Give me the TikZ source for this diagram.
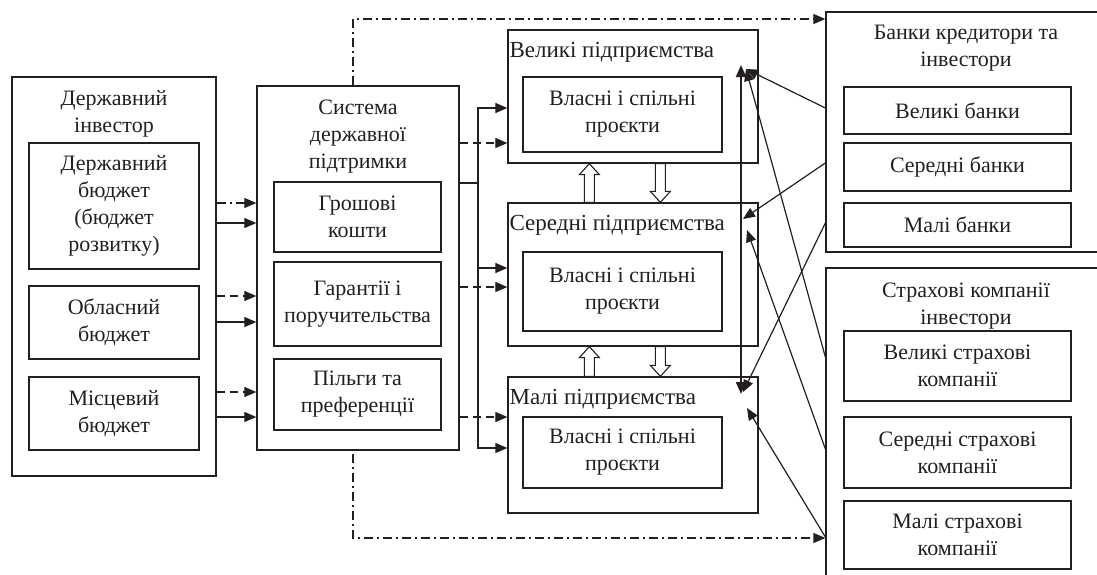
\documentclass[tikz,border=0pt]{standalone}
\usepackage{fontspec}
\setmainfont{Liberation Serif}
\usetikzlibrary{arrows.meta,positioning,calc}
\definecolor{ink}{HTML}{231F20}
\tikzset{box/.style={draw=ink,line width=1.3pt,align=center,inner sep=0pt,text=ink,font=\fontsize{22}{27}\selectfont},
  ttl/.style={align=center,inner sep=1pt,text=ink,font=\fontsize{22}{27}\selectfont},
  arr/.style={->,line width=1.2pt,draw=ink},
  dsh/.style={dash pattern=on 8pt off 5pt},
  dd/.style={dash pattern=on 9pt off 4pt on 2pt off 4pt},
  hol/.style={draw=ink,line width=1.1pt}}
\begin{document}
\begin{tikzpicture}[x=1pt,y=-1pt,>={Triangle[length=12pt,width=10pt]}]
\clip (0,0) rectangle (1097,574);
% outer frames
\foreach \n/\x/\y/\w/\h in {inv/114/276.5/204/399,sys/358/268/202/364,ve/633/96.5/250/133,se/633/274.5/250/143,ma/633/445/250/136,bk/973/132/294/240,ins/973/434/294/332}
  \node[box,minimum width=\w*1pt,minimum height=\h*1pt] (\n) at (\x,\y) {};
% inner boxes
\foreach \n/\x/\y/\w/\h/\t in {sb/114/206/170/126/{Державний\\бюджет\\(бюджет\\розвитку)},ob/114/322.5/170/73/{Обласний\\бюджет},mb/114/413.5/170/73/{Місцевий\\бюджет},
  gk/357.5/217/167/70/{Грошові\\кошти},gp/357.5/304/167/84/{Гарантії і\\поручительства},pp/357.5/394.5/167/71/{Пільги та\\преференції},
  vei/622.5/114.5/199/75/{Власні і спільні\\проєкти},sei/622.5/291.5/199/79/{Власні і спільні\\проєкти},mai/622.5/452.5/199/71/{Власні і спільні\\проєкти},
  bv/957.5/110.5/227/47/{Великі банки},bs/957.5/167/227/48/{Середні банки},bm/957.5/225/227/44/{Малі банки},
  iv/957.5/366/227/70/{Великі страхові\\компанії},is/957.5/452.5/227/71/{Середні страхові\\компанії},im/957.5/535/227/68/{Малі страхові\\компанії}}
  \node[box,minimum width=\w*1pt,minimum height=\h*1pt] (\n) at (\x,\y) {\t};
% titles
\node[ttl] (inv-t) at (114,113.5) {Державний\\інвестор};
\node[ttl] (sys-t) at (358,137) {Система\\державної\\підтримки};
\node[ttl] (bk-t) at (966,48.5) {Банки кредитори та\\інвестори};
\node[ttl] (ins-t) at (966,306) {Страхові компанії\\інвестори};
\foreach \n/\t in {ve/Великі,se/Середні,ma/Малі}
  \node[ttl,anchor=west,font=\fontsize{23}{27}\selectfont] (\n-t) at ([xshift=1pt,yshift=-23pt]\n.north west) {\t{} підприємства};
% budgets -> support
\foreach \y/\s in {203/dd,223/,296/dsh,322/,392/dsh,417/}
  \draw[arr,\s] (inv.east |- 0,\y) -- (sys.west |- 0,\y);
% support -> enterprises
\coordinate (bus) at (478,183);
\draw[line width=1.2pt,draw=ink] (sys.east |- bus) -- (bus);
\foreach \n/\y in {ve/108,se/268,ma/448}
  \draw[arr] (bus) |- (\n.west |- 0,\y);
\foreach \n/\y in {ve/143,se/287,ma/417}
  \draw[arr,dsh] (sys.east |- 0,\y) -- (\n.west |- 0,\y);
\draw[arr,dd] ([xshift=-5pt]sys.north) |- (bk.west |- 0,19);
\draw[arr,dd] ([xshift=-5pt,yshift=-3pt]sys.south) |- (ins.west |- 0,538);
% hollow arrows
\foreach \a/\b in {ve/se,se/ma}{
  \draw[hol] ([xshift=77pt]\b.north west) -- ([xshift=77pt,yshift=-11pt]\a.south west) -- ([xshift=72pt,yshift=-11pt]\a.south west)
    -- ([xshift=82pt]\a.south west) -- ([xshift=92pt,yshift=-11pt]\a.south west) -- ([xshift=87pt,yshift=-11pt]\a.south west) -- ([xshift=87pt]\b.north west) -- cycle;
  \draw[hol] ([xshift=148pt]\a.south west) -- ([xshift=148pt,yshift=11pt]\b.north west) -- ([xshift=143pt,yshift=11pt]\b.north west)
    -- ([xshift=153pt]\b.north west) -- ([xshift=163pt,yshift=11pt]\b.north west) -- ([xshift=158pt,yshift=11pt]\b.north west) -- ([xshift=158pt]\a.south west) -- cycle;
}
% banks and insurers -> enterprises
\coordinate (vu) at (741,65);
\coordinate (vd) at (741,394);
\coordinate (vt) at (746,69);
\coordinate (st) at (743,219);
\coordinate (st2) at (747,230);
\coordinate (mt) at (743,392);
\coordinate (mt2) at (747,408);
\draw[arr,<->,line width=2pt] (vu) -- (vd);
\foreach \y/\c in {108/vt,163/st,223/mt}
  \draw[arr] (bk.west |- 0,\y) -- (\c);
\foreach \y/\c in {357/vt,449/st2,537/mt2}
  \draw[arr] (ins.west |- 0,\y) -- (\c);
\end{tikzpicture}
\end{document}
